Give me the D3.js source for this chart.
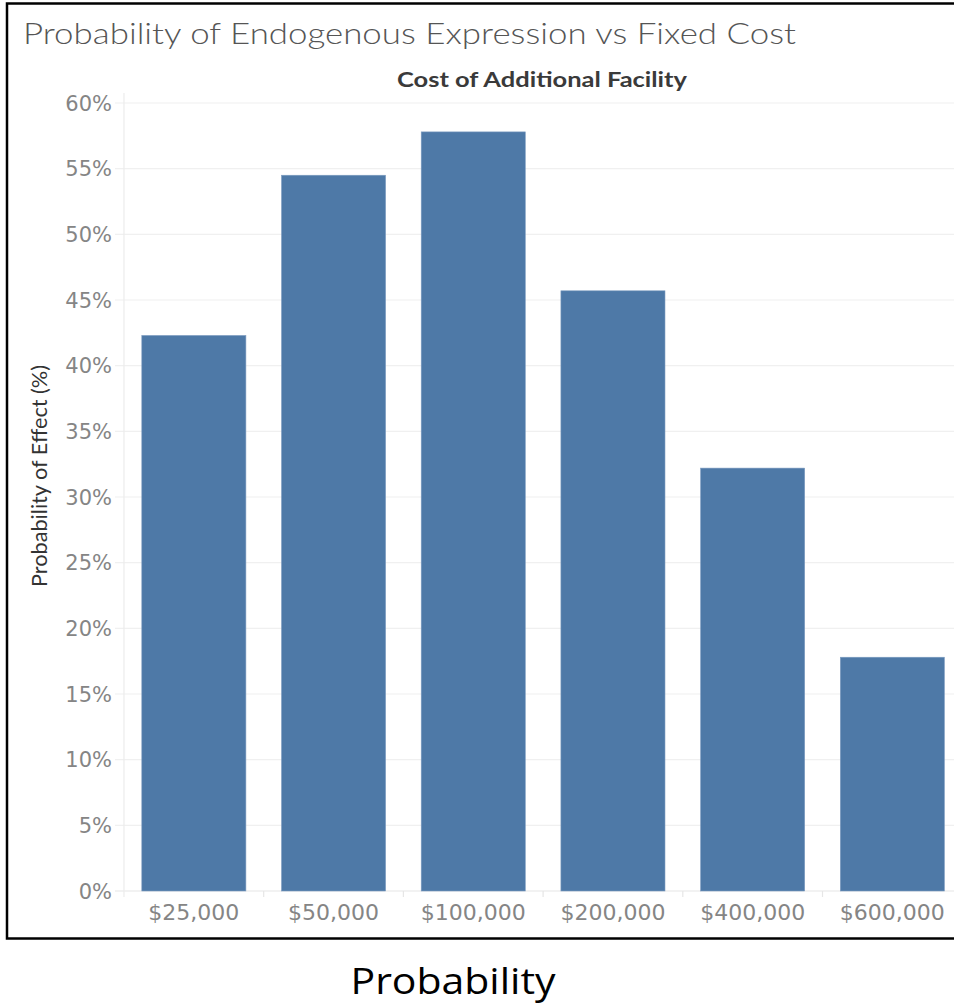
<!DOCTYPE html>
<html>
<head>
<meta charset="utf-8">
<script src="https://cdn.jsdelivr.net/npm/d3@7"></script>
<style>
  html, body { margin: 0; padding: 0; background: #fff; }
  svg { display: block; }
</style>
</head>
<body>
<svg id="chart" width="954" height="1007"></svg>
<script>
// Fixed-cost categories and probability of effect (%) per category
const categories = ["$25,000", "$50,000", "$100,000", "$200,000", "$400,000", "$600,000"];
const probability = [42.3, 54.5, 57.8, 45.7, 32.2, 17.8];
const yTicks = [0, 5, 10, 15, 20, 25, 30, 35, 40, 45, 50, 55, 60];

const svg = d3.select("#chart");

// Frame around the worksheet
svg.append("rect")
  .attr("x", 7).attr("y", 3.5)
  .attr("width", 960).attr("height", 935)
  .attr("fill", "none").attr("stroke", "#000").attr("stroke-width", 2.5);

const x = d3.scaleBand()
  .domain(categories)
  .range([124, 962.2])
  .paddingInner(0.255)
  .paddingOuter(0.1275);

const y = d3.scaleLinear().domain([0, 60]).range([891, 103]);

// Horizontal gridlines
svg.append("g")
  .selectAll("line")
  .data(yTicks)
  .join("line")
  .attr("x1", 115).attr("x2", 954)
  .attr("y1", d => y(d)).attr("y2", d => y(d))
  .attr("stroke", d => d === 0 ? "#e6e6e6" : "#f0f0f0")
  .attr("stroke-width", 1.2);

// Vertical axis rule
svg.append("line")
  .attr("x1", 124).attr("x2", 124)
  .attr("y1", 93).attr("y2", 897)
  .attr("stroke", "#ececec").attr("stroke-width", 1.2);

// Category separators below the baseline
const step = x.step();
svg.append("g")
  .selectAll("line")
  .data(categories.slice(1))
  .join("line")
  .attr("x1", d => x(d) + x.bandwidth() / 2 - step / 2)
  .attr("x2", d => x(d) + x.bandwidth() / 2 - step / 2)
  .attr("y1", 891).attr("y2", 897)
  .attr("stroke", "#e6e6e6").attr("stroke-width", 1.2);

// Bars
svg.append("g")
  .selectAll("rect")
  .data(categories)
  .join("rect")
  .attr("x", d => x(d))
  .attr("width", x.bandwidth())
  .attr("y", (d, i) => y(probability[i]))
  .attr("height", (d, i) => y(0) - y(probability[i]))
  .attr("fill", "#4e79a7")
  .attr("stroke", "#7d9cc0")
  .attr("stroke-width", 0.6);

// Y tick labels
svg.append("g")
  .selectAll("text")
  .data(yTicks)
  .join("text")
  .attr("x", 112)
  .attr("y", d => y(d))
  .attr("dy", "0.36em")
  .attr("text-anchor", "end")
  .attr("font-family", "DejaVu Sans")
  .attr("font-size", 21)
  .attr("fill", "#858585")
  .text(d => d + "%");

// X tick labels
svg.append("g")
  .selectAll("text")
  .data(categories)
  .join("text")
  .attr("x", d => x(d) + x.bandwidth() / 2)
  .attr("y", 920)
  .attr("text-anchor", "middle")
  .attr("font-family", "DejaVu Sans")
  .attr("font-size", 22)
  .attr("fill", "#858585")
  .text(d => d);

// Title
svg.append("text")
  .attr("x", 23).attr("y", 44)
  .attr("font-family", "Lato")
  .attr("font-weight", 300)
  .attr("font-size", 30)
  .attr("fill", "#555")
  .attr("textLength", 773)
  .attr("lengthAdjust", "spacingAndGlyphs")
  .text("Probability of Endogenous Expression vs Fixed Cost");

// Column header
svg.append("text")
  .attr("x", 542).attr("y", 87)
  .attr("text-anchor", "middle")
  .attr("font-family", "Lato")
  .attr("font-weight", 700)
  .attr("font-size", 21)
  .attr("fill", "#3a3a3a")
  .attr("textLength", 290)
  .attr("lengthAdjust", "spacingAndGlyphs")
  .text("Cost of Additional Facility");

// Y axis title
svg.append("text")
  .attr("transform", "translate(47,476) rotate(-90)")
  .attr("text-anchor", "middle")
  .attr("font-family", "Lato")
  .attr("font-size", 22)
  .attr("fill", "#333")
  .attr("textLength", 222)
  .attr("lengthAdjust", "spacingAndGlyphs")
  .text("Probability of Effect (%)");

// Caption below the frame
svg.append("text")
  .attr("x", 453).attr("y", 994)
  .attr("text-anchor", "middle")
  .attr("font-family", "Open Sans")
  .attr("font-size", 36)
  .attr("fill", "#000")
  .attr("textLength", 205)
  .attr("lengthAdjust", "spacingAndGlyphs")
  .text("Probability");
</script>
</body>
</html>
